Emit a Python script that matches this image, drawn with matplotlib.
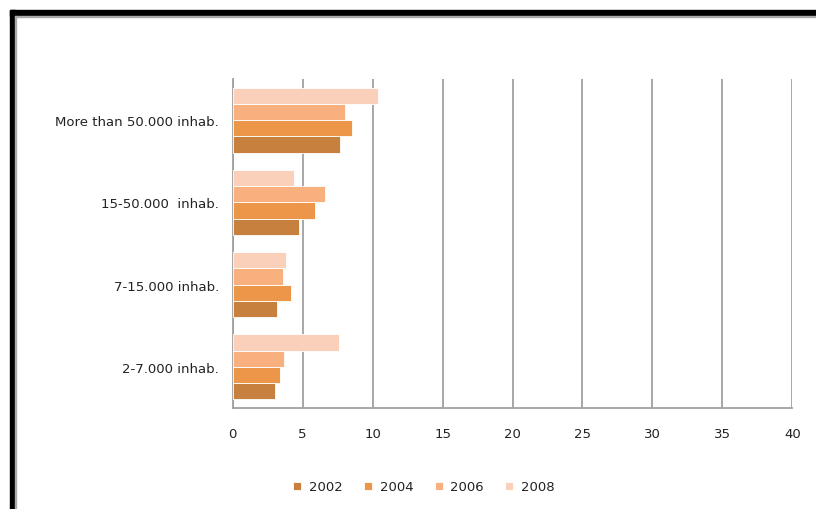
import numpy as np
import matplotlib
matplotlib.use('Agg')
import matplotlib.pyplot as plt
from matplotlib.patches import Rectangle

# categories, bottom to top
categories = ['2-7.000 inhab.', '7-15.000 inhab.', '15-50.000  inhab.', 'More than 50.000 inhab.']
years = ['2002', '2004', '2006', '2008']

v2002 = [3.05, 3.2, 4.75, 7.7]
v2004 = [3.4, 4.2, 5.9, 8.5]
v2006 = [3.7, 3.6, 6.6, 8.0]
v2008 = [7.6, 3.8, 4.4, 10.4]

colors = ['#C8803F', '#EB9649', '#F7B07E', '#FAD0BA']
series = [v2002, v2004, v2006, v2008]

plt.rcParams['font.family'] = ['DejaVu Sans']

fig = plt.figure(figsize=(8.16, 5.10), dpi=100)
ax = fig.add_axes([0.2852, 0.198, 0.6858, 0.645])

y = np.arange(len(categories))
h = 0.197
for k, vals in enumerate(series):
    off = (k - 1.5) * h
    ax.barh(y + off, vals, height=h, color=colors[k], edgecolor='white',
            linewidth=0.6, label=years[k], zorder=3)

ax.set_xlim(0, 40)
ax.set_ylim(-0.5, 3.5)
ax.set_xticks(np.arange(0, 41, 5))
ax.set_yticks(y)
ax.set_yticklabels(categories)
ax.tick_params(axis='both', length=0, labelsize=9.5, colors='#222222')
ax.tick_params(axis='x', pad=14)
ax.tick_params(axis='y', pad=10)

ax.grid(axis='x', color='#a0a0a0', linewidth=1.3, zorder=0)
for s in ['top', 'right']:
    ax.spines[s].set_visible(False)
for s in ['left', 'bottom']:
    ax.spines[s].set_color('#a0a0a0')
    ax.spines[s].set_linewidth(1.3)

fig.legend(loc='center', bbox_to_anchor=(424 / 816, 1 - 488 / 510), ncol=4,
           frameon=False, fontsize=9.5, handlelength=0.6, handleheight=0.6,
           columnspacing=1.6, handletextpad=0.6, labelcolor='#222222')

# thick black frame along top and left edges
W, H = 816.0, 510.0
fig.patches.append(Rectangle((10 / W, 1 - 17 / H), 1 - 10 / W, 6 / H,
                             transform=fig.transFigure, color='black', zorder=10))
fig.patches.append(Rectangle((10 / W, 0), 5 / W, 1 - 11 / H,
                             transform=fig.transFigure, color='black', zorder=10))
fig.patches.append(Rectangle((15 / W, 1 - 18 / H), 1 - 15 / W, 1 / H,
                             transform=fig.transFigure, color='#aaaaaa', zorder=10))
fig.patches.append(Rectangle((15 / W, 0), 1 / W, 1 - 17 / H,
                             transform=fig.transFigure, color='#aaaaaa', zorder=10))

fig.savefig('out.png', dpi=100)
